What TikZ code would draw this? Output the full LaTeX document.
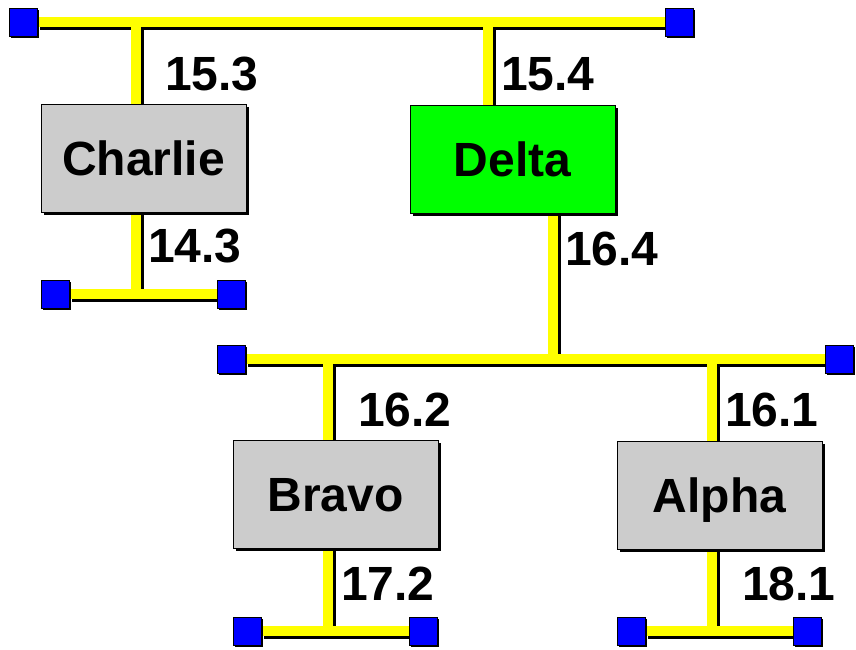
\documentclass[tikz,border=0pt]{standalone}
\usepackage{fontspec}
\setmainfont{Liberation Sans}
\usetikzlibrary{shadows}
\pgfdeclarelayer{bg}
\pgfsetlayers{bg,main}
\definecolor{boxgrey}{HTML}{CCCCCC}
\definecolor{deltagreen}{HTML}{00FF00}
\definecolor{portblue}{HTML}{0000FF}
\definecolor{wireyellow}{HTML}{FFFF00}
\newcommand\mywires[1]{%
  % buses
  \draw[#1] (t1) -- (t2);
  \draw[#1] (c1) -- (c2);
  \draw[#1] (m1) -- (m2);
  \draw[#1] (b1) -- (b2);
  \draw[#1] (a1) -- (a2);
  % drops
  \draw[#1] (jc1) -- (jc1 |- charlie.north);
  \draw[#1] (charlie.south -| jc2) -- (jc2);
  \draw[#1] (jd1) -- (jd1 |- delta.north);
  \draw[#1] (delta.south -| jd2) -- (jd2);
  \draw[#1] (jb1) -- (jb1 |- bravo.north);
  \draw[#1] (bravo.south -| jb2) -- (jb2);
  \draw[#1] (ja1) -- (ja1 |- alpha.north);
  \draw[#1] (alpha.south -| ja2) -- (ja2);
}
\begin{document}
\begin{tikzpicture}[x=1pt,y=-1pt,
  devbox/.style={draw=black, line width=0.8pt, minimum width=205pt, minimum height=108pt,
    inner sep=0pt, font=\fontsize{48}{58}\selectfont\bfseries, text height=34pt, text depth=0pt,
    drop shadow={shadow xshift=2.5pt, shadow yshift=-2.5pt, fill=black, opacity=1}},
  port/.style={draw=black, line width=0.8pt, fill=portblue, minimum size=28pt, inner sep=0pt,
    drop shadow={shadow xshift=2pt, shadow yshift=-2pt, fill=black, opacity=1}},
  lbl/.style={font=\fontsize{48}{58}\selectfont\bfseries, anchor=base west, inner sep=0pt},
  wire/.style={line width=10pt, draw=wireyellow},
  wireshadow/.style={line width=10pt, draw=black}]
\useasboundingbox (0,0) rectangle (856,649);

% devices
\node[devbox, fill=boxgrey]    (charlie) at (143.5,158) {Charlie};
\node[devbox, fill=deltagreen] (delta)   at (512.5,159) {Delta};
\node[devbox, fill=boxgrey]    (bravo)   at (335.5,494) {Bravo};
\node[devbox, fill=boxgrey]    (alpha)   at (719.5,495) {Alpha};

% ports
\node[port] (t1) at (23,22) {};
\node[port] (t2) at (679,22) {};
\node[port] (c1) at (55,294) {};
\node[port] (c2) at (231,294) {};
\node[port] (m1) at (231,359) {};
\node[port] (m2) at (839,359) {};
\node[port] (b1) at (247,631) {};
\node[port] (b2) at (423,631) {};
\node[port] (a1) at (631,631) {};
\node[port] (a2) at (807,631) {};

% junctions on buses
\coordinate (jc1) at (135.5,22);
\coordinate (jc2) at (135.5,294);
\coordinate (jd1) at (488,22);
\coordinate (jd2) at (553,359);
\coordinate (jb1) at (328,359);
\coordinate (jb2) at (328,631);
\coordinate (ja1) at (712,359);
\coordinate (ja2) at (712,631);

\begin{pgfonlayer}{bg}
  \begin{scope}[transform canvas={shift={(3pt,-3pt)}}]
    \mywires{wireshadow}
  \end{scope}
  \mywires{wire}
\end{pgfonlayer}

% labels
\node[lbl] (l153) at (165,90) {15.3};
\node[lbl] (l154) at (501,90) {15.4};
\node[lbl] (l143) at (148,262) {14.3};
\node[lbl] (l164) at (565,265) {16.4};
\node[lbl] (l162) at (358,426) {16.2};
\node[lbl] (l161) at (725,426) {16.1};
\node[lbl] (l172) at (341,600) {17.2};
\node[lbl] (l181) at (742,600) {18.1};
\end{tikzpicture}
\end{document}
